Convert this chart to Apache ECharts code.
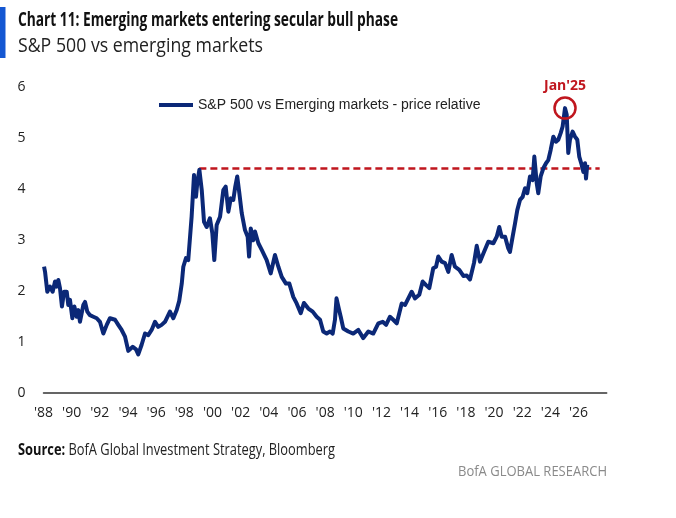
<!DOCTYPE html>
<html>
<head>
<meta charset="utf-8">
<title>S&amp;P 500 vs emerging markets</title>
<script src="https://cdn.jsdelivr.net/npm/echarts@6/dist/echarts.min.js"></script>
<style>
  html, body { margin: 0; padding: 0; background: #fff; }
  #chart { width: 676px; height: 518px; }
</style>
</head>
<body>
<div id="chart"></div>
<script>
// decimal year of each reading
const years = [
  1988.04, 1988.11, 1988.27, 1988.46, 1988.65, 1988.82, 1988.94, 1989.05, 1989.17, 1989.31,
  1989.46, 1989.65, 1989.76, 1989.88, 1990.05, 1990.19, 1990.36, 1990.47, 1990.59, 1990.83,
  1990.95, 1991.11, 1991.30, 1991.54, 1991.78, 1992.01, 1992.25, 1992.49, 1992.72, 1993.08,
  1993.31, 1993.55, 1993.79, 1994.02, 1994.34, 1994.57, 1994.73, 1994.97, 1995.21, 1995.44,
  1995.68, 1995.92, 1996.15, 1996.39, 1996.63, 1996.98, 1997.22, 1997.46, 1997.64, 1997.82,
  1997.93, 1998.12, 1998.28, 1998.52, 1998.69, 1998.83, 1998.92, 1999.07, 1999.24, 1999.40,
  1999.59, 1999.82, 1999.99, 2000.13, 2000.30, 2000.54, 2000.77, 2000.94, 2001.13, 2001.30,
  2001.48, 2001.62, 2001.76, 2001.91, 2002.08, 2002.31, 2002.50, 2002.60, 2002.72, 2002.90,
  2003.02, 2003.26, 2003.50, 2003.85, 2004.14, 2004.44, 2004.68, 2004.92, 2005.22, 2005.46,
  2005.74, 2005.98, 2006.27, 2006.50, 2006.81, 2007.12, 2007.40, 2007.64, 2007.87, 2008.11,
  2008.35, 2008.54, 2008.70, 2008.81, 2008.97, 2009.11, 2009.29, 2009.65, 2010.00, 2010.36,
  2010.71, 2011.07, 2011.42, 2011.78, 2012.09, 2012.33, 2012.61, 2012.84, 2013.09, 2013.44,
  2013.68, 2013.91, 2014.15, 2014.38, 2014.69, 2014.93, 2015.17, 2015.40, 2015.68, 2015.88,
  2016.04, 2016.28, 2016.52, 2016.75, 2016.99, 2017.22, 2017.53, 2017.82, 2018.06, 2018.29,
  2018.58, 2018.77, 2019.00, 2019.24, 2019.59, 2019.95, 2020.19, 2020.37, 2020.54, 2020.78,
  2021.01, 2021.13, 2021.32, 2021.49, 2021.65, 2021.84, 2022.03, 2022.20, 2022.36, 2022.55,
  2022.74, 2022.86, 2023.03, 2023.14, 2023.31, 2023.50, 2023.69, 2023.85, 2024.02, 2024.21,
  2024.40, 2024.56, 2024.73, 2024.87, 2025.04, 2025.16, 2025.27, 2025.39, 2025.58, 2025.75,
  2025.91, 2026.05, 2026.22, 2026.34, 2026.46, 2026.53, 2026.62
];

// S&P 500 / MSCI EM price relative
const ratio = [
  2.47, 2.37, 1.98, 2.08, 1.98, 2.18, 2.08, 2.21, 2.05, 1.69,
  1.98, 1.98, 1.72, 1.82, 1.46, 1.69, 1.49, 1.62, 1.39, 1.72,
  1.78, 1.59, 1.52, 1.49, 1.46, 1.39, 1.16, 1.33, 1.46, 1.43,
  1.33, 1.23, 1.10, 0.82, 0.90, 0.85, 0.75, 0.94, 1.16, 1.13,
  1.23, 1.39, 1.29, 1.33, 1.39, 1.59, 1.46, 1.62, 1.80, 2.14,
  2.47, 2.64, 2.60, 3.45, 4.27, 3.84, 4.11, 4.37, 3.97, 3.35,
  3.25, 3.42, 3.13, 2.60, 3.29, 3.45, 3.97, 4.04, 3.55, 3.81,
  3.78, 4.04, 4.24, 3.91, 3.52, 3.19, 3.06, 2.67, 3.22, 2.99,
  3.16, 2.93, 2.80, 2.60, 2.34, 2.70, 2.47, 2.27, 2.14, 2.14,
  1.88, 1.75, 1.56, 1.76, 1.65, 1.59, 1.49, 1.43, 1.20, 1.16,
  1.20, 1.16, 1.43, 1.85, 1.65, 1.49, 1.26, 1.20, 1.16, 1.23,
  1.07, 1.20, 1.16, 1.36, 1.39, 1.33, 1.49, 1.43, 1.36, 1.75,
  1.72, 1.85, 1.98, 1.85, 1.92, 2.18, 2.11, 2.05, 2.44, 2.47,
  2.67, 2.57, 2.54, 2.37, 2.70, 2.47, 2.41, 2.29, 2.30, 2.22,
  2.55, 2.88, 2.57, 2.73, 2.96, 2.93, 3.06, 3.25, 3.06, 3.06,
  2.83, 2.76, 3.06, 3.32, 3.58, 3.78, 3.84, 4.01, 3.91, 4.24,
  4.17, 4.63, 4.11, 3.91, 4.24, 4.40, 4.50, 4.56, 4.76, 5.02,
  4.92, 4.96, 5.09, 5.22, 5.58, 5.45, 4.70, 4.96, 5.12, 5.02,
  4.96, 4.63, 4.47, 4.33, 4.50, 4.20, 4.47
];

// dashed resistance level from the 1999 high
const resistance = 4.4;
const resistanceFrom = 1999.07;
const resistanceTo = 2027.5;

// Jan'25 peak marker
const peakYear = 2025.04;
const peakValue = 5.58;
const peakLabel = "Jan'25";

const yTicks = [0, 1, 2, 3, 4, 5, 6];

const navy = '#0b2877';
const red = '#c0161e';

const titleText = 'Chart 11: Emerging markets entering secular bull phase';
const subtitleText = 'S&P 500 vs emerging markets';
const sourceRest = ' BofA Global Investment Strategy, Bloomberg';

// squeeze text horizontally so it fits the condensed house font width
const measure = (text, font) => {
  const ctx = document.createElement('canvas').getContext('2d');
  ctx.font = font;
  return ctx.measureText(text).width;
};

const titleFont = 'bold 20px "Open Sans"';
const subFont = '20px "Open Sans"';
const srcBold = 'bold 16px "Open Sans"';
const srcReg = '16px "Open Sans"';
const brandFont = '15px "Open Sans"';

const titleScale = 380 / measure(titleText, titleFont);
const subScale = 245 / measure(subtitleText, subFont);
const srcScale = 317 / (measure('Source:', srcBold) + measure(sourceRest, srcReg));
const brandScale = 149 / measure('BofA GLOBAL RESEARCH', brandFont);

const chart = echarts.init(document.getElementById('chart'));

chart.setOption({
  animation: false,
  backgroundColor: '#fff',
  grid: { left: 43.5, right: 69.3, top: 86.7, bottom: 125.3, containLabel: false },
  legend: {
    left: 154,
    top: 93,
    icon: 'rect',
    itemWidth: 34,
    itemHeight: 4,
    itemGap: 3,
    textStyle: { fontFamily: 'Liberation Sans', fontSize: 14, color: '#222' },
    data: ['S&P 500 vs Emerging markets - price relative']
  },
  xAxis: {
    type: 'value',
    min: 1988,
    max: 2028,
    interval: 2,
    axisLine: { show: true, onZero: false, lineStyle: { color: '#333', width: 1.5 } },
    axisTick: { show: false },
    splitLine: { show: false },
    axisLabel: {
      showMaxLabel: false,
      margin: 13,
      fontFamily: 'Open Sans',
      fontSize: 14,
      color: '#222',
      formatter: v => "'" + String(v).slice(2)
    }
  },
  yAxis: {
    type: 'value',
    min: yTicks[0],
    max: yTicks[yTicks.length - 1],
    interval: 1,
    axisLine: { show: false },
    axisTick: { show: false },
    splitLine: { show: false },
    axisLabel: { margin: 18, fontFamily: 'Open Sans', fontSize: 14, color: '#222' }
  },
  series: [{
    name: 'S&P 500 vs Emerging markets - price relative',
    type: 'line',
    data: years.map((y, i) => [y, ratio[i]]),
    showSymbol: false,
    symbol: 'none',
    itemStyle: { color: navy },
    lineStyle: { color: navy, width: 4, join: 'round' },
    z: 3,
    markLine: {
      silent: true,
      symbol: ['none', 'none'],
      label: { show: false },
      lineStyle: { color: red, width: 2.5, type: [7, 4] },
      data: [[
        { coord: [resistanceFrom, resistance] },
        { coord: [resistanceTo, resistance] }
      ]],
      z: 2
    },
    markPoint: {
      silent: true,
      symbol: 'circle',
      symbolSize: 21,
      itemStyle: { color: 'rgba(0,0,0,0)', borderColor: red, borderWidth: 2.5 },
      label: {
        show: true,
        position: 'top',
        distance: 3,
        formatter: peakLabel,
        color: red,
        fontFamily: 'Open Sans',
        fontWeight: 'bold',
        fontSize: 14
      },
      data: [{ coord: [peakYear, peakValue] }]
    }
  }],
  graphic: [
    { type: 'rect', shape: { x: 0, y: 7, width: 5.5, height: 51 }, style: { fill: '#1457d2' } },
    {
      type: 'text', x: 18, y: 20, scaleX: titleScale,
      style: { text: titleText, font: titleFont, fill: '#111', verticalAlign: 'middle' }
    },
    {
      type: 'text', x: 18, y: 46, scaleX: subScale,
      style: { text: subtitleText, font: subFont, fill: '#222', verticalAlign: 'middle' }
    },
    {
      type: 'text', x: 18, y: 450, scaleX: srcScale,
      style: {
        text: '{b|Source:}{r|' + sourceRest + '}',
        verticalAlign: 'middle',
        rich: {
          b: { font: srcBold, fill: '#111' },
          r: { font: srcReg, fill: '#222' }
        }
      }
    },
    {
      type: 'text', x: 458, y: 472, scaleX: brandScale,
      style: { text: 'BofA GLOBAL RESEARCH', font: brandFont, fill: '#8a8a8a', verticalAlign: 'middle' }
    }
  ]
});

window.addEventListener('resize', () => chart.resize());
</script>
</body>
</html>
